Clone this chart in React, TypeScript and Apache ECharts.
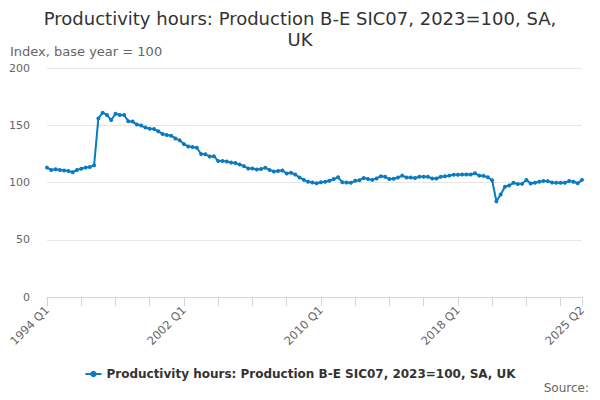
import { useEffect, useRef } from 'react'
import * as echarts from 'echarts'

const firstYear = 1994
const lastYear = 2025
const lastQuarter = 2

const quarters: string[] = []
for (let y = firstYear; y <= lastYear; y++) {
  for (let q = 1; q <= 4; q++) {
    if (y === lastYear && q > lastQuarter) break
    quarters.push(`${y} Q${q}`)
  }
}

// index values, 1994 Q1 .. 2025 Q2
const productivityHours = [
  113, 111, 111.5, 111, 110.5, 110, 109, 111, 112, 113, 113.5, 115,
  156, 161, 159, 154.5, 160, 159, 159, 153.5,
  153.2, 150.6, 149.7, 148, 147, 146.8, 144.7, 142.4, 141.5, 140.9, 138.5, 136.8,
  133.5, 131.5, 131, 130.4,
  124.9, 124.6, 122.8, 123, 118.7, 118.7, 118.4, 117.5, 117, 115.8, 114.3, 112.3,
  112.3, 111.4, 111.7, 112.9, 111, 109.6, 110, 110.5, 107.9, 108.5, 107, 104.4,
  102.3, 100.6, 100, 99.4, 100.3, 100.6,
  101.5, 103, 104.5,
  100.3, 100, 99.7, 101.5, 102, 104, 103, 102.3, 103.5, 105.5, 105, 103,
  103.2, 104.4, 106, 104.4, 104.4, 104, 105, 105, 105, 103.5, 103.5, 105,
  105.5, 106, 106.7, 106.7, 107, 107, 107, 108, 106,
  105.8, 104.6, 102, 83.5, 89.6, 96.2, 97.4, 99.7, 98.6, 98.8, 102.3, 99.1,
  99.7, 100.6, 101.4, 101.2, 100, 99.7, 99.7, 99.7, 101.4, 100.6, 99.4, 102.3,
]

const yTicks = { min: 0, max: 200, step: 50 }

const chartTitle = 'Productivity hours: Production B-E SIC07, 2023=100, SA,\nUK'
const seriesName = 'Productivity hours: Production B-E SIC07, 2023=100, SA, UK'
const yAxisName = 'Index, base year = 100'
const sourceText = 'Source:'

const font = 'DejaVu Sans'
const lineColor = '#0a7bc1'
const axisColor = '#ccd6eb'

export default function App() {
  const chartRef = useRef<HTMLDivElement | null>(null)

  useEffect(() => {
    if (!chartRef.current) {
      return
    }

    const last = quarters.length - 1
    const chart = echarts.init(chartRef.current, null, { renderer: 'svg' })
    chart.setOption({
      animation: false,
      textStyle: { fontFamily: font },
      graphic: [
        {
          type: 'text',
          x: 300,
          y: 8,
          style: {
            text: chartTitle,
            font: `18px "${font}"`,
            fill: '#333333',
            align: 'center',
            lineHeight: 21,
          },
        },
        {
          type: 'text',
          left: 10,
          top: 45,
          style: { text: yAxisName, font: `13px "${font}"`, fill: '#666666' },
        },
        {
          type: 'text',
          right: 11,
          top: 382,
          style: { text: sourceText, font: `12px "${font}"`, fill: '#666666' },
        },
      ],
      legend: {
        left: 'center',
        top: 363,
        itemWidth: 16,
        itemHeight: 8,
        textStyle: { fontFamily: font, fontSize: 12, fontWeight: 'bold', color: '#333333' },
        data: [seriesName],
      },
      grid: { left: 47, right: 18, top: 68, height: 229 },
      xAxis: {
        type: 'category',
        boundaryGap: false,
        data: quarters,
        axisLine: { lineStyle: { color: axisColor } },
        axisTick: {
          length: 9,
          lineStyle: { color: axisColor },
          interval: (i: number) => i % 8 === 0 || i === last,
        },
        axisLabel: {
          rotate: 45,
          color: '#666666',
          fontSize: 11.5,
          margin: 11,
          interval: (i: number) => i % 32 === 0 || i === last,
        },
      },
      yAxis: {
        type: 'value',
        min: yTicks.min,
        max: yTicks.max,
        interval: yTicks.step,
        axisLine: { show: false },
        axisTick: { show: false },
        axisLabel: { color: '#666666', fontSize: 11, margin: 17 },
        splitLine: { lineStyle: { color: '#e6e6e6' } },
      },
      series: [
        {
          name: seriesName,
          type: 'line',
          data: productivityHours,
          symbol: 'circle',
          symbolSize: 4,
          showAllSymbol: true,
          itemStyle: { color: lineColor },
          lineStyle: { color: lineColor, width: 2 },
        },
      ],
    })

    return () => {
      chart.dispose()
    }
  }, [])

  return (
    <div
      ref={chartRef}
      style={{ position: 'absolute', left: 0, top: 0, width: 600, height: 400, background: '#ffffff' }}
    />
  )
}
